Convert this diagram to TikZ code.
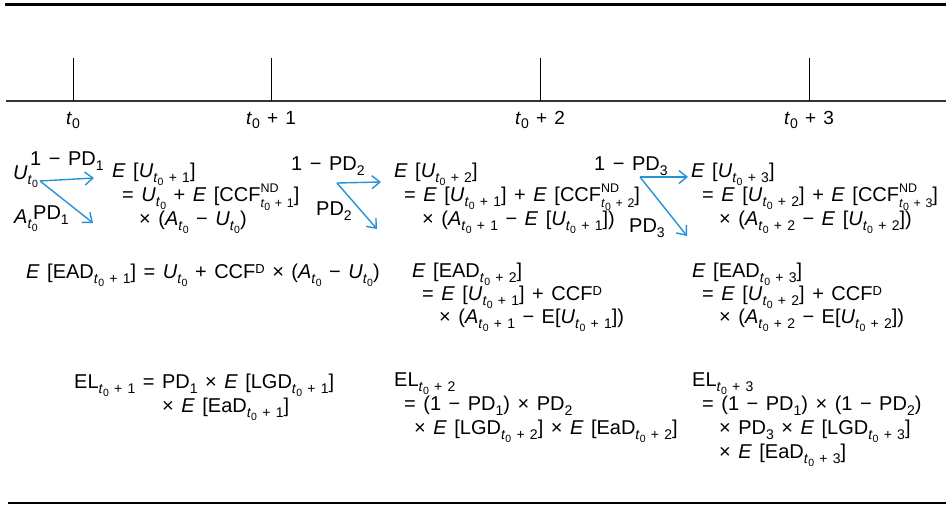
\documentclass[tikz,border=0pt]{standalone}
\usepackage{fontspec}
\setmainfont{Liberation Sans}[WordSpace=1.35]
\usetikzlibrary{arrows.meta}
\definecolor{arrowblue}{RGB}{38,146,214}
\newcommand{\zsub}{\raisebox{-0.2em}{\fontsize{10.5}{10.5}\selectfont 0}}
\newcommand{\tnot}{\textit{t}\zsub}
\newcommand{\lsub}[1]{\raisebox{-0.28em}{\fontsize{14}{14}\selectfont #1}}
\newcommand{\tz}{\lsub{\tnot}}
\newcommand{\tsb}[1]{\lsub{\tnot\ + #1}}
\newcommand{\ndsb}[1]{\rlap{\raisebox{0.42em}{\fontsize{12.5}{12.5}\selectfont ND}}\raisebox{-0.33em}{\fontsize{12.5}{12.5}\selectfont\tnot\ + #1}}
\newcommand{\supD}{\raisebox{0.25em}{\fontsize{13}{13}\selectfont D}}
\newcommand{\pdn}[1]{PD\lsub{#1}}
\newcommand{\Ex}{\textit{E}}
\newcommand{\tlab}{\textit{t}\raisebox{-0.22em}{\fontsize{14}{14}\selectfont 0}}
\tikzset{
  txt/.style={anchor=base west, inner sep=0pt, font=\fontsize{20}{22}\selectfont},
  axlab/.style={anchor=base, inner sep=0pt, font=\fontsize{19}{22}\selectfont},
  barrow/.style={draw=arrowblue, line width=1.4pt, -{Straight Barb[length=8pt,width=13pt]}},
  rulethick/.style={line width=3pt},
  axisline/.style={line width=1.3pt, draw=black!80},
  tickline/.style={line width=0.9pt},
}
\begin{document}
\begin{tikzpicture}[x=1pt,y=-1pt]
\useasboundingbox (0,0) rectangle (946,506);
% rules and axis
\coordinate (tl) at (5,4); \coordinate (tr) at (946,4);
\draw[rulethick] (tl) -- (tr);
\coordinate (bl) at (8,503); \coordinate (br) at (946,503);
\draw[rulethick, line width=2.5pt] (bl) -- (br);
\coordinate (al) at (6,101); \coordinate (ar) at (946,101);
\draw[axisline] (al) -- (ar);
\foreach \n/\x in {0/73,1/271,2/540,3/809}{
  \coordinate (tk\n top) at (\x,58);
  \coordinate (tk\n bot) at (\x,101);
  \draw[tickline] (tk\n top) -- (tk\n bot);
}
\node[axlab] (lab0) at (73,124) {\tlab};
\node[axlab] (lab1) at (271,124) {\tlab\ + 1};
\node[axlab] (lab2) at (540,124) {\tlab\ + 2};
\node[axlab] (lab3) at (809,124) {\tlab\ + 3};

% block 1
\node[txt] (U0) at (13,179) {\textit{U}\tz};
\node[txt] (p1a) at (30,165) {1 − \pdn{1}};
\node[txt] (A0) at (14,223) {\textit{A}\tz};
\node[txt] (p1b) at (33,219) {\pdn{1}};
\coordinate (o1) at (40,181);
\coordinate (h1) at (94,178);
\coordinate (l1) at (93,223);
\draw[barrow] (o1) -- (h1);
\draw[barrow] (o1) -- (l1);
\node[txt] (u1a) at (112,177) {\Ex{} [\textit{U}\tsb{1}]};
\node[txt] (u1b) at (122,201) {= \textit{U}\tz{} + \Ex{} [CCF\ndsb{1}]};
\node[txt] (u1c) at (139,225) {× (\textit{A}\tz{} − \textit{U}\tz)};

% block 2
\node[txt] (p2a) at (291,170) {1 − \pdn{2}};
\node[txt] (p2b) at (316,215) {\pdn{2}};
\coordinate (o2) at (337,183);
\coordinate (h2) at (381,182);
\coordinate (l2) at (377,229);
\draw[barrow] (o2) -- (h2);
\draw[barrow] (o2) -- (l2);
\node[txt] (u2a) at (394,177) {\Ex{} [\textit{U}\tsb{2}]};
\node[txt] (u2b) at (404,201) {= \Ex{} [\textit{U}\tsb{1}] + \Ex{} [CCF\ndsb{2}]};
\node[txt] (u2c) at (422,225) {× (\textit{A}\tsb{1} − \Ex{} [\textit{U}\tsb{1}])};

% block 3
\node[txt] (p3a) at (594,170) {1 − \pdn{3}};
\node[txt] (p3b) at (629,232) {\pdn{3}};
\coordinate (o3) at (640,177);
\coordinate (h3) at (688,177);
\coordinate (l3) at (687,236);
\draw[barrow] (o3) -- (h3);
\draw[barrow] (o3) -- (l3);
\node[txt] (u3a) at (691,177) {\Ex{} [\textit{U}\tsb{3}]};
\node[txt] (u3b) at (702,201) {= \Ex{} [\textit{U}\tsb{2}] + \Ex{} [CCF\ndsb{3}]};
\node[txt] (u3c) at (719,225) {× (\textit{A}\tsb{2} − \Ex{} [\textit{U}\tsb{2}])};

% EAD row
\node[txt] (ead1) at (26,278) {\Ex{} [EAD\tsb{1}] = \textit{U}\tz{} + CCF\supD{} × (\textit{A}\tz{} − \textit{U}\tz)};
\node[txt] (ead2a) at (412,277) {\Ex{} [EAD\tsb{2}]};
\node[txt] (ead2b) at (422,300) {= \Ex{} [\textit{U}\tsb{1}] + CCF\supD};
\node[txt] (ead2c) at (439,323) {× (\textit{A}\tsb{1} − E[\textit{U}\tsb{1}])};
\node[txt] (ead3a) at (692,277) {\Ex{} [EAD\tsb{3}]};
\node[txt] (ead3b) at (702,300) {= \Ex{} [\textit{U}\tsb{2}] + CCF\supD};
\node[txt] (ead3c) at (719,323) {× (\textit{A}\tsb{2} − E[\textit{U}\tsb{2}])};

% EL row
\node[txt] (el1a) at (74,388) {EL\tsb{1} = \pdn{1} × \Ex{} [LGD\tsb{1}]};
\node[txt] (el1b) at (162,412) {× \Ex{} [EaD\tsb{1}]};
\node[txt] (el2a) at (394,386) {EL\tsb{2}};
\node[txt] (el2b) at (404,410) {= (1 − \pdn{1}) × \pdn{2}};
\node[txt] (el2c) at (414,434) {× \Ex{} [LGD\tsb{2}] × \Ex{} [EaD\tsb{2}]};
\node[txt] (el3a) at (692,386) {EL\tsb{3}};
\node[txt] (el3b) at (702,410) {= (1 − \pdn{1}) × (1 − \pdn{2})};
\node[txt] (el3c) at (719,434) {× \pdn{3} × \Ex{} [LGD\tsb{3}]};
\node[txt] (el3d) at (719,458) {× \Ex{} [EaD\tsb{3}]};
\end{tikzpicture}
\end{document}
